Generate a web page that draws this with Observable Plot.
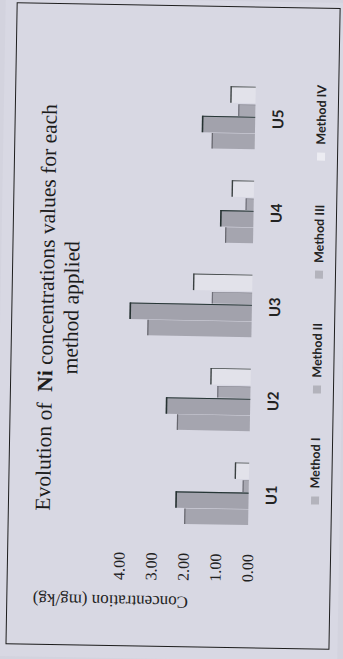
<!DOCTYPE html>
<html><head><meta charset="utf-8">
<script src="https://cdn.jsdelivr.net/npm/d3@7"></script>
<script src="https://cdn.jsdelivr.net/npm/@observablehq/plot@0.6"></script>
<style>
html,body{margin:0;padding:0;width:343px;height:659px;overflow:hidden;background:#d3d3de;}
#page{position:absolute;left:-158px;top:158px;width:659px;height:343px;transform-origin:50% 50%;transform:rotate(-89deg);background:#d8d8e3;}
#border{position:absolute;left:12px;top:11px;width:640px;height:322px;border:1.5px solid #1e1e1e;}
#title{position:absolute;left:40px;right:0;top:34px;text-align:center;font-family:"Liberation Serif",serif;font-size:21.5px;line-height:25px;color:#1c1c1c;}
#chart{position:absolute;left:0;top:0;}
#legend{position:absolute;left:157px;top:310px;display:flex;gap:44px;font-family:Lato,sans-serif;font-weight:700;font-size:12.5px;color:#222;}
.item{display:flex;align-items:center;gap:8px}
.sw{width:8px;height:8px}
</style></head>
<body>
<div id="page">
  <div id="border"></div>
  <div id="title">Evolution of&nbsp; <b>Ni</b> concentrations values for each<br>method applied</div>
  <div id="chart"></div>
  <div id="legend"></div>
</div>
<script>
const categories = ["U1", "U2", "U3", "U4", "U5"];
const methods = ["Method I", "Method II", "Method III", "Method IV"];
const methodI = [1.99, 2.27, 3.24, 0.87, 1.34];
const methodII = [2.27, 2.62, 3.80, 1.03, 1.65];
const methodIII = [0.19, 1.03, 1.25, 0.25, 0.53];
const methodIV = [0.44, 1.25, 1.84, 0.69, 0.78];
const yTicks = [0, 1, 2, 3, 4];
const axisTitle = "Concentration (mg/kg)";

const series = [methodI, methodII, methodIII, methodIV];
const data = categories.flatMap((c, i) => methods.map((m, j) => ({cat: c, method: m, value: series[j][i]})));

// styling (bar placement within a category band, colours, edges)
const half = 47.25;
const styles = [
  {a: -30, b: -14, fill: "#a5a5af", top: "#66666e", topW: 1.2, right: null, rightW: 0, swatch: "#b3b3bc"},
  {a: -14, b: 3, fill: "#a2a2ac", top: "#263232", topW: 1.6, right: "#263636", rightW: 1.6, swatch: "#b3b3bc"},
  {a: 3, b: 15, fill: "#a8a8b2", top: "#70707a", topW: 1.2, right: "#80808a", rightW: 1, swatch: "#b3b3bc"},
  {a: 16, b: 33, fill: "#e2e2ea", top: "#3a4041", topW: 1.4, right: "#3e4444", rightW: 1.4, swatch: "#ececf2"}
];

const marks = [];
[3, 2, 1, 0].forEach(j => {
  const s = styles[j];
  const d = data.filter(r => r.method === methods[j]);
  marks.push(Plot.barY(d, {x: "cat", y: "value", fill: s.fill, insetLeft: half + s.a, insetRight: half - s.b}));
  if (s.right) marks.push(Plot.barY(d, {x: "cat", y: "value", fill: s.right, insetLeft: half + s.b - s.rightW, insetRight: half - s.b}));
  marks.push(Plot.tickY(d, {x: "cat", y: "value", stroke: s.top, strokeWidth: s.topW, insetLeft: half + s.a, insetRight: half - s.b}));
});

marks.push(Plot.axisY({ticks: yTicks, tickFormat: d3.format(".2f"), tickSize: 0, tickPadding: 11, fontSize: 16, fontFamily: "Liberation Serif", label: null, fill: "#222"}));
marks.push(Plot.axisX({tickSize: 0, tickPadding: 17, fontSize: 15, fontFamily: "Lato", fontWeight: 700, label: null, fill: "#222"}));
marks.push(Plot.text([axisTitle], {frameAnchor: "left", dx: -60, dy: 5, rotate: -90, fontSize: 17, fontFamily: "Liberation Serif", fill: "#222"}));

const chart = Plot.plot({
  width: 659, height: 343,
  marginLeft: 116.75, marginRight: 69.75, marginTop: 123, marginBottom: 91.5,
  style: {background: "transparent", overflow: "visible"},
  x: {type: "band", domain: categories, padding: 0},
  y: {domain: [0, 4]},
  marks
});
document.getElementById("chart").appendChild(chart);

const legend = document.getElementById("legend");
methods.forEach((m, j) => {
  const it = document.createElement("div");
  it.className = "item";
  it.innerHTML = `<span class="sw" style="background:${styles[j].swatch}"></span><span>${m}</span>`;
  legend.appendChild(it);
});
</script>
</body></html>
